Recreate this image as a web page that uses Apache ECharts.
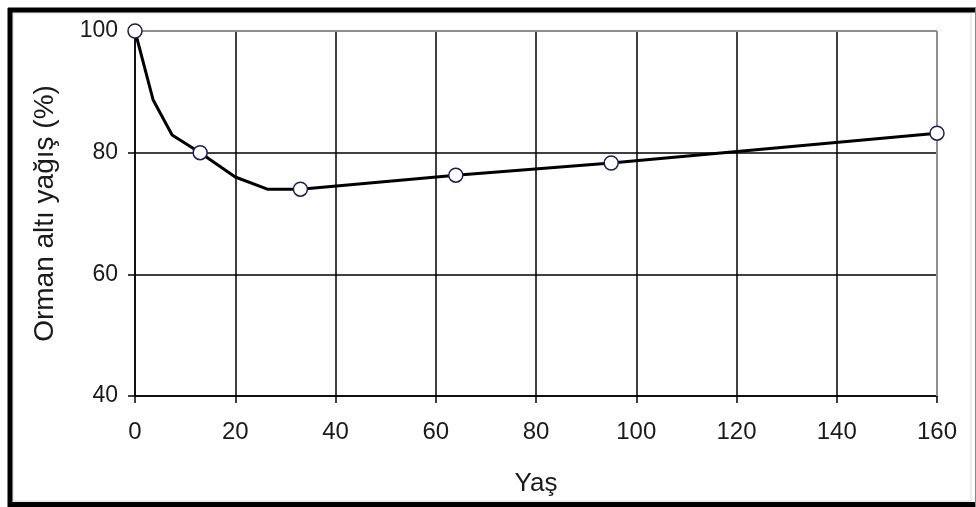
<!DOCTYPE html>
<html>
<head>
<meta charset="utf-8">
<script src="https://cdn.jsdelivr.net/npm/echarts@6/dist/echarts.min.js"></script>
<style>
html,body{margin:0;padding:0;background:#fff;}
#c{width:976px;height:507px;}
</style>
</head>
<body>
<div id="c"></div>
<script>
// Data
var curveX = [0, 3.6, 7.4, 13, 20, 26.4, 33, 64, 95, 160];
var curveY = [100, 88.7, 82.9, 80, 76, 74, 74, 76.3, 78.3, 83.2];
var markerX = [0, 13, 33, 64, 95, 160];
var markerY = [100, 80, 74, 76.3, 78.3, 83.2];
var xTicks = [0, 20, 40, 60, 80, 100, 120, 140, 160];
var yTicks = [40, 60, 80, 100];
var xTitle = 'Yaş';
var yTitle = 'Orman altı yağış (%)';

var curve = curveX.map(function (x, i) { return [x, curveY[i]]; });
var markers = markerX.map(function (x, i) { return [x, markerY[i]]; });
var xMax = xTicks[xTicks.length - 1];
var yMax = yTicks[yTicks.length - 1];

var font = '"Liberation Sans", Arial, sans-serif';
var chart = echarts.init(document.getElementById('c'), null, { renderer: 'canvas' });
chart.setOption({
  animation: false,
  backgroundColor: '#fff',
  grid: { left: 135, right: 39, top: 31, bottom: 111, containLabel: false },
  xAxis: {
    type: 'value', min: xTicks[0], max: xMax, interval: 20,
    name: xTitle, nameLocation: 'middle', nameGap: 75,
    nameTextStyle: { fontFamily: font, fontSize: 26, color: '#1a1a1a' },
    axisLine: { show: true, onZero: false, lineStyle: { color: '#000', width: 1.5 } },
    axisTick: { show: true, inside: false, length: 7, lineStyle: { color: '#000', width: 1.5 } },
    axisLabel: { fontFamily: font, fontSize: 24, color: '#1a1a1a', margin: 24 },
    splitLine: { show: true, lineStyle: { color: '#000', width: 1.5 } }
  },
  yAxis: {
    type: 'value', min: yTicks[0], max: yMax, interval: 20,
    name: yTitle, nameLocation: 'middle', nameGap: 76, nameRotate: 90,
    nameTextStyle: { fontFamily: font, fontSize: 28, color: '#1a1a1a' },
    axisLine: { show: true, onZero: false, lineStyle: { color: '#000', width: 1.5 } },
    axisTick: { show: true, inside: false, length: 7, lineStyle: { color: '#000', width: 1.5 } },
    axisLabel: { fontFamily: font, fontSize: 23, color: '#1a1a1a', margin: 17 },
    splitLine: { show: true, lineStyle: { color: '#000', width: 1.5 } }
  },
  series: [
    {
      type: 'line', data: [], z: 1, silent: true,
      markLine: {
        silent: true, symbol: 'none', label: { show: false }, z: 1,
        lineStyle: { color: '#8f8f8f', width: 2, type: 'solid' },
        data: [{ xAxis: xMax }, { yAxis: yMax }]
      }
    },
    {
      type: 'line', data: curve, showSymbol: false, symbol: 'none', smooth: false,
      lineStyle: { color: '#000', width: 3 }, z: 6
    },
    {
      type: 'scatter', data: markers, symbol: 'circle', symbolSize: 14,
      itemStyle: { color: '#fff', borderColor: '#1c1c5c', borderWidth: 1.5, opacity: 1 }, z: 10
    }
  ],
  graphic: [
    { type: 'rect', shape: { x: 13, y: 13, width: 958, height: 488 }, style: { fill: null, stroke: '#d8d8d8', lineWidth: 1 }, silent: true },
    { type: 'line', shape: { x1: 10, y1: 8, x2: 10, y2: 507 }, style: { stroke: '#000', lineWidth: 5 }, silent: true },
    { type: 'line', shape: { x1: 8, y1: 10, x2: 976, y2: 10 }, style: { stroke: '#000', lineWidth: 5 }, silent: true },
    { type: 'line', shape: { x1: 8, y1: 504.5, x2: 976, y2: 504.5 }, style: { stroke: '#000', lineWidth: 5 }, silent: true },
    { type: 'line', shape: { x1: 975.5, y1: 8, x2: 975.5, y2: 507 }, style: { stroke: '#888', lineWidth: 1 }, silent: true }
  ]
});
</script>
</body>
</html>
